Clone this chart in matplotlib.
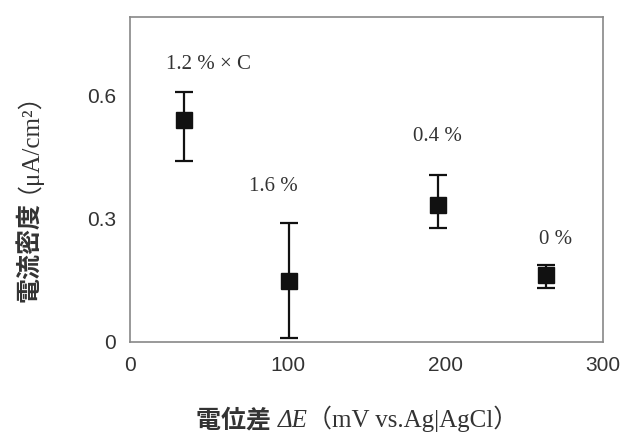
import numpy as np
import matplotlib
matplotlib.use("Agg")
import matplotlib.pyplot as plt
from matplotlib.offsetbox import TextArea, HPacker, AnchoredOffsetbox

# potential difference (mV) and current density (uA/cm2)
dE = [34, 101, 195, 264]
current = [0.54, 0.148, 0.332, 0.163]
err_up = [0.067, 0.142, 0.073, 0.025]
err_down = [0.10, 0.138, 0.056, 0.031]
labels = ["1.2 % × C", "1.6 %", "0.4 %", "0 %"]
label_pos = [(50, 0.675), (91, 0.378), (195, 0.50), (270, 0.248)]

serif_cjk = ['Liberation Serif', 'Noto Sans CJK JP']
txt_color = '#333333'

fig = plt.figure(figsize=(6.25, 4.34), dpi=100)
ax = fig.add_axes([0.208, 0.212, 0.757, 0.749])

ax.errorbar(dE, current, yerr=[err_down, err_up], fmt='s', color='#111111',
            markersize=11, capsize=6.5, elinewidth=1.6, capthick=1.6, zorder=3)

for txt, (x, y) in zip(labels, label_pos):
    ax.text(x, y, txt, ha='center', va='center', fontsize=15,
            family='Liberation Serif', color=txt_color)

ax.set_xlim(0, 300)
ax.set_ylim(0, 0.79)
ax.set_xticks([0, 100, 200, 300])
ax.set_yticks([0, 0.3, 0.6])
ax.set_yticklabels(['0', '0.3', '0.6'])
ax.tick_params(length=0, labelsize=15, colors=txt_color, pad=10)
for lbl in ax.get_xticklabels() + ax.get_yticklabels():
    lbl.set_family('Liberation Sans')
for s in ax.spines.values():
    s.set_color('#888888')
    s.set_linewidth(1.2)

# x label made of pieces so that ΔE can be italic
fs = 18
parts = [TextArea('電位差 ', textprops=dict(family=serif_cjk, fontsize=fs, weight='bold', color=txt_color)),
         TextArea('ΔE', textprops=dict(family='Liberation Serif', style='italic', fontsize=fs, color=txt_color)),
         TextArea('（mV vs.Ag|AgCl）', textprops=dict(family=serif_cjk, fontsize=fs, color=txt_color))]
box = HPacker(children=parts, align='baseline', pad=0, sep=0)
anchored = AnchoredOffsetbox(loc='center', child=box, frameon=False,
                             bbox_to_anchor=(0.572, 0.035), bbox_transform=fig.transFigure, pad=0)
fig.add_artist(anchored)

# y label: bold CJK part, then the serif unit part right above it
ylab_cjk = fig.text(0.047, 0.305, '電流密度', rotation=90, ha='center', va='bottom',
                    fontsize=18, family=serif_cjk, weight='bold', color=txt_color)
ax.annotate('（μA/cm²）', xy=(0.5, 1.0), xycoords=ylab_cjk, rotation=90,
            xytext=(-11, 6), textcoords='offset points',
            ha='center', va='bottom', fontsize=18, family=serif_cjk,
            color=txt_color, annotation_clip=False)

fig.savefig('out.png', dpi=100)
